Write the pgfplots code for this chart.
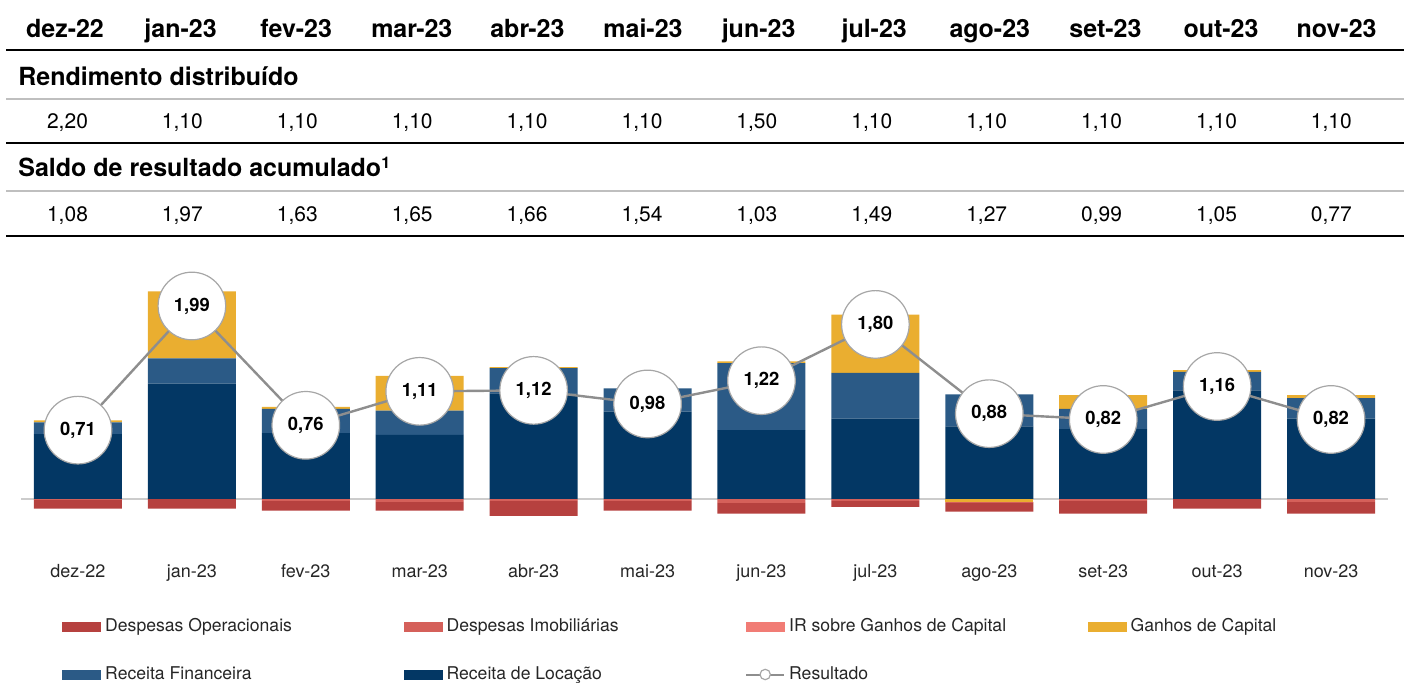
\documentclass[border=0pt]{standalone}
\usepackage{pgfplots}
\usepackage{pgfplotstable}
\pgfplotsset{compat=1.18}
\usepackage{fontspec}
\setmainfont{TeX Gyre Heros}
\definecolor{loc}{HTML}{033764}
\definecolor{fin}{HTML}{2B5A86}
\definecolor{gan}{HTML}{EAAE30}
\definecolor{oper}{HTML}{B6413F}
\definecolor{imob}{HTML}{D5605A}
\definecolor{irc}{HTML}{F17C75}
\definecolor{resline}{HTML}{8E8E8E}
\definecolor{circ}{HTML}{A6A6A6}

% x = month index, values in R$/cota
\pgfplotstableread{
x loc  fin  gan  gneg  imob  ir   oper   res
0 0.67 0.12 0.02 0     -0.01 0    -0.09  0.71
1 1.19 0.26 0.69 0     0     0    -0.10  1.99
2 0.68 0.25 0.02 0     -0.02 0    -0.10  0.76
3 0.66 0.25 0.36 0     -0.03 0    -0.09  1.11
4 1.09 0.26 0.01 0     -0.02 0    -0.155 1.12
5 0.90 0.24 0    0     -0.02 0    -0.10  0.98
6 0.71 0.69 0.02 0     -0.04 0    -0.11  1.22
7 0.83 0.47 0.60 0     -0.02 0    -0.06  1.80
8 0.75 0.33 0    -0.03 -0.01 0    -0.09  0.88
9 0.72 0.21 0.14 0     -0.02 0    -0.13  0.82
10 1.12 0.19 0.02 0    0     0    -0.10  1.16
11 0.83 0.21 0.03 0    -0.03 0    -0.12  0.82
}\data

\pgfplotsset{
  barleg/.style={legend image code/.code={\fill[#1] (0pt,-2.3pt) rectangle (19pt,2.3pt);}},
  frame/.style={at={(10.5pt,-278.6pt)}, anchor=south west,
    scale only axis, width=683.5pt, height=140.65pt,
    xmin=-0.5, xmax=11.5, ymin=-0.6, ymax=2.3,
    axis line style={draw=none}, major tick length=0pt},
  bare/.style={frame, xtick=\empty, ytick=\empty},
}

\begin{document}
\begin{tikzpicture}
\begin{scope}[x=0.5pt,y=-0.5pt]
  \useasboundingbox (0,0) rectangle (1413,682);
  % table above the chart
  \foreach \m [count=\i from 0] in {dez-22,jan-23,fev-23,mar-23,abr-23,mai-23,jun-23,jul-23,ago-23,set-23,out-23,nov-23}
    \node[anchor=base, inner sep=0pt, font=\bfseries\fontsize{12.5}{14}\selectfont] at (65+115.6*\i,37.7) {\m};
  \draw[black, line width=1.25pt] (6,50) -- (1404,50);
  \node[anchor=base west, inner sep=0pt, font=\bfseries\fontsize{12.5}{14}\selectfont] at (18,85) {Rendimento distribuído};
  \draw[black!25, line width=1pt] (6,99) -- (1404,99);
  \foreach \v [count=\i from 0] in {{2,20},{1,10},{1,10},{1,10},{1,10},{1,10},{1,50},{1,10},{1,10},{1,10},{1,10},{1,10}}
    \node[anchor=base, inner sep=0pt, font=\fontsize{10.5}{12}\selectfont] at (67.5+114.9*\i,128.3) {\v};
  \draw[black, line width=1.25pt] (6,143) -- (1404,143);
  \node[anchor=base west, inner sep=0pt, font=\bfseries\fontsize{12.5}{14}\selectfont] at (18,176.7) {Saldo de resultado acumulado\textsuperscript{\fontsize{8}{9}\selectfont 1}};
  \draw[black!25, line width=1pt] (6,190.5) -- (1404,190.5);
  \foreach \v [count=\i from 0] in {{1,08},{1,97},{1,63},{1,65},{1,66},{1,54},{1,03},{1,49},{1,27},{0,99},{1,05},{0,77}}
    \node[anchor=base, inner sep=0pt, font=\fontsize{10.5}{12}\selectfont] at (67.5+114.9*\i,221.7) {\v};
  \draw[black, line width=1.25pt] (6,236) -- (1404,236);
\end{scope}

% positive stack, with zero line and month labels
\begin{axis}[frame,
  ybar stacked, bar width=44pt,
  xtick={0,...,11},
  xticklabels={dez-22,jan-23,fev-23,mar-23,abr-23,mai-23,jun-23,jul-23,ago-23,set-23,out-23,nov-23},
  xticklabel style={font=\fontsize{9}{11}\selectfont, text=black!85},
  ytick={0}, yticklabels={},
  ymajorgrids, grid style={black!20, line width=1pt},
]
  \addplot[fill=loc, draw=none] table[x=x,y=loc]{\data};
  \addplot[fill=fin, draw=none] table[x=x,y=fin]{\data};
  \addplot[fill=gan, draw=none] table[x=x,y=gan]{\data};
\end{axis}

% negative stack
\begin{axis}[bare, ybar stacked, bar width=44pt]
  \addplot[fill=gan, draw=none] table[x=x,y=gneg]{\data};
  \addplot[fill=imob, draw=none] table[x=x,y=imob]{\data};
  \addplot[fill=irc, draw=none] table[x=x,y=ir]{\data};
  \addplot[fill=oper, draw=none] table[x=x,y=oper]{\data};
\end{axis}

% resultado and legend
\begin{axis}[bare,
  legend columns=4,
  legend style={draw=none, fill=none, inner sep=0pt, overlay,
    at={(axis description cs:0.030,-0.202)}, anchor=north west,
    font=\fontsize{8.8}{10}\selectfont, text=black!85,
    row sep=12pt, cells={anchor=west}},
]
  \addplot[forget plot, sharp plot, draw=resline, line width=1.2pt,
    mark=*, mark size=16.9pt, mark options={draw=circ, fill=white, line width=0.6pt},
    nodes near coords={\pgfmathprintnumber[fixed,fixed zerofill,precision=2,use comma,assume math mode=true]{\pgfplotspointmeta}},
    every node near coord/.append style={anchor=center, inner sep=0pt, text=black,
      font=\bfseries\fontsize{9.2}{11}\selectfont}]
    table[x=x,y=res]{\data};

  \addlegendimage{barleg=oper}
  \addlegendentry{\makebox[147.3pt][l]{Despesas Operacionais}}
  \addlegendimage{barleg=imob}
  \addlegendentry{\makebox[147.3pt][l]{Despesas Imobiliárias}}
  \addlegendimage{barleg=irc}
  \addlegendentry{\makebox[147.3pt][l]{IR sobre Ganhos de Capital}}
  \addlegendimage{barleg=gan}
  \addlegendentry{\makebox[147.3pt][l]{Ganhos de Capital}}
  \addlegendimage{barleg=fin}
  \addlegendentry{\makebox[147.3pt][l]{Receita Financeira}}
  \addlegendimage{barleg=loc}
  \addlegendentry{\makebox[147.3pt][l]{Receita de Locação}}
  \addlegendimage{legend image code/.code={
      \draw[resline, line width=1pt] (0pt,0pt) -- (19pt,0pt);
      \draw[circ, fill=white, line width=0.6pt] (9.5pt,0pt) circle (2.6pt);}}
  \addlegendentry{\makebox[147.3pt][l]{Resultado}}
\end{axis}
\end{tikzpicture}
\end{document}
